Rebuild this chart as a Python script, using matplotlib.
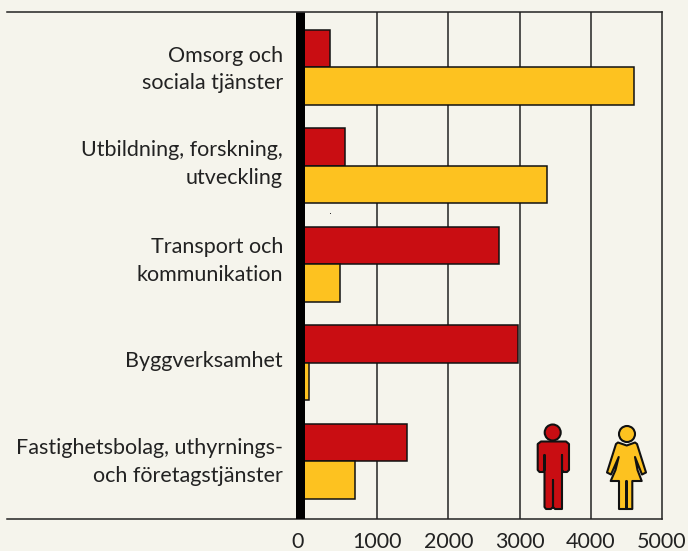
from matplotlib import pyplot as plt
from matplotlib.patches import Circle, Polygon, Rectangle
from matplotlib.transforms import Affine2D, ScaledTranslation

categories = ['Omsorg och\nsociala tjänster',
              'Utbildning, forskning,\nutveckling',
              'Transport och\nkommunikation',
              'Byggverksamhet',
              'Fastighetsbolag, uthyrnings-\noch företagstjänster']
men = [340, 550, 2710, 2980, 1420]
women = [4610, 3390, 480, 45, 695]
ticks = [0, 1000, 2000, 3000, 4000, 5000]

bg = '#f5f4ec'
red = '#c90d12'
yellow = '#fdc220'
ink = '#222222'

W, H = 688, 551
plt.rcParams['font.family'] = ['Lato', 'DejaVu Sans']

fig = plt.figure(figsize=(W / 100, H / 100), dpi=100, facecolor=bg)
# axes box in pixels, 0 on the scale sits at x=306
left, right, top, bottom = 7, 662, 11.5, 519
ax = fig.add_axes([left / W, 1 - bottom / H, (right - left) / W, (bottom - top) / H], facecolor=bg)
per_px = 1000 / 71.2
ax.set_xlim((left - 306) * per_px, (right - 306) * per_px)
row = 98.5
ax.set_ylim(-(bottom - 461) / row, 4 + (67 - top) / row)

ypos = [4, 3, 2, 1, 0]
# labels are not quite centred on their groups in the original (pixels)
label_shift = [2.5, -1.5, -3, -2, 1]
h = 37.5 / row
baseline = -2 * per_px
for t in ticks[1:-1]:
    ax.axvline(t, color=ink, lw=1.1, zorder=1)
ax.barh([y + h / 2 for y in ypos], [m - baseline for m in men], h, left=baseline,
        color=red, edgecolor='#111111', lw=1.1, zorder=2)
ax.barh([y - h / 2 for y in ypos], [w - baseline for w in women], h, left=baseline,
        color=yellow, edgecolor='#111111', lw=1.1, zorder=2)
ax.axvline(-6.5 * per_px, color='black', lw=9 * 0.72, solid_capstyle='butt', zorder=3)

ax.spines['left'].set_visible(False)
for s in ['top', 'bottom', 'right']:
    ax.spines[s].set_color(ink)
    ax.spines[s].set_linewidth(1.1)
ax.set_yticks([])
ax.set_xticks(ticks)
ax.set_xticklabels(ticks, fontsize=15.5, color=ink)
ax.tick_params(axis='x', length=0, pad=9)
# the zero sits under the thick line, not on the scale
zero = ax.get_xticklabels()[0]
zero.set_transform(zero.get_transform() + ScaledTranslation(-8 / 100, 0, fig.dpi_scale_trans))

for y, name, shift in zip(ypos, categories, label_shift):
    ax.text(-23 * per_px, y - shift / row, name, ha='right', va='center', fontsize=15.5,
            color=ink, linespacing=1.45, zorder=4)

# figures in the corner, drawn in pixel coordinates with y going down
px = Affine2D().scale(1, -1).translate(0, H)
man = [(541, 441.5), (566, 441.5), (569, 444), (569, 470), (567, 472), (563.5, 472), (562, 470),
       (562, 455), (562, 509), (555, 509), (553, 507), (553, 480), (553, 507),
       (551, 509), (546, 509), (544.5, 507), (544.5, 455), (544.5, 470), (543, 472), (539.5, 472),
       (537.7, 470), (537.7, 444)]
woman = [(626.7, 445.5), (635, 442.5), (637, 444), (646, 472.5), (642, 474.5), (635, 457),
         (637.5, 470), (641.7, 481), (632.3, 481), (632.3, 509), (626.5, 509), (626.5, 481),
         (626.5, 509), (619, 509), (619, 481), (610.7, 481), (615.5, 470), (618.7, 457), (611, 474.5),
         (607, 472.5), (616, 444), (618, 442.5)]
icons = [Polygon(man, closed=True, fc=red), Circle((552.7, 432.5), 8, fc=red),
         Polygon(woman, closed=True, fc=yellow), Circle((627, 434), 8, fc=yellow)]
for p in icons:
    p.set(ec='#111111', lw=1.5, joinstyle='round', transform=px, zorder=5, clip_on=False)
    fig.add_artist(p)
# stray speck in the original
fig.add_artist(Rectangle((330, 213), 1, 1, fc='#333333', ec='none', transform=px))

plt.savefig('out.png', dpi=100, facecolor=bg)
